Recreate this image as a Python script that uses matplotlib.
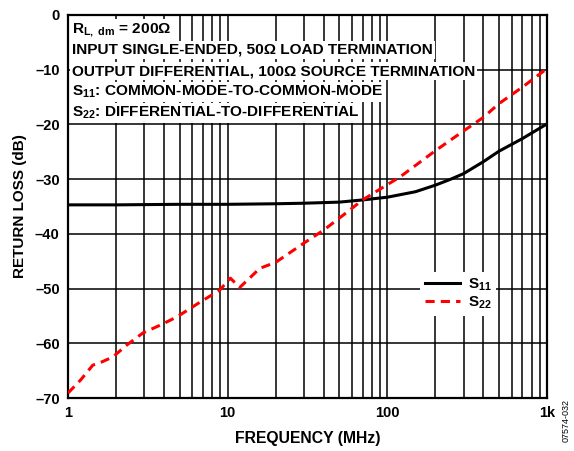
import matplotlib
matplotlib.use("Agg")
import matplotlib.pyplot as plt
from matplotlib.ticker import FixedLocator, LogLocator, NullFormatter

plt.rcParams['font.family'] = ['Liberation Sans', 'DejaVu Sans']
plt.rcParams['font.weight'] = 'bold'
plt.rcParams['mathtext.fontset'] = 'custom'
plt.rcParams['mathtext.rm'] = 'Liberation Sans:bold'
plt.rcParams['mathtext.bf'] = 'Liberation Sans:bold'
plt.rcParams['mathtext.it'] = 'Liberation Sans:bold'

# S11 data (frequency MHz, return loss dB)
s11_freq = [1, 2, 5, 10, 20, 30, 50, 70, 100, 150, 200, 250, 300, 400, 500, 700, 1000]
s11_db = [-34.7, -34.7, -34.6, -34.6, -34.5, -34.4, -34.2, -33.8, -33.3, -32.3, -31.1,
          -30.0, -29.0, -26.8, -24.9, -22.6, -19.9]

# S22 data
s22_freq = [1, 1.2, 1.43, 1.63, 1.91, 2.34, 2.95, 3.77, 4.8, 6.7, 8.9, 10.4,
            11.9, 15.9, 20, 30, 40, 55, 70, 100, 120, 200, 300, 400, 500, 700, 1000]
s22_db = [-69.1, -66.7, -64.0, -63.4, -62.5, -60.3, -58.1, -56.7, -55.2, -52.5,
          -50.3, -48.1, -49.8, -46.3, -45.2, -41.7, -39.3, -36.2, -33.8, -31.0,
          -29.6, -24.8, -21.2, -18.7, -16.2, -13.2, -9.8]

yticks = [0, -10, -20, -30, -40, -50, -60, -70]
ytick_labels = ['0', '\u201310', '\u201320', '\u201330', '\u201340', '\u201350', '\u201360', '\u201370']
xticks = [1, 10, 100, 1000]
xtick_labels = ['1', '10', '100', '1k']

notes = [r'R$_{\mathbf{L,\ dm}}$ = 200$\Omega$',
         'INPUT SINGLE-ENDED, 50\u03a9 LOAD TERMINATION',
         'OUTPUT DIFFERENTIAL, 100\u03a9 SOURCE TERMINATION',
         r'S$_{\mathbf{11}}$: COMMON-MODE-TO-COMMON-MODE',
         r'S$_{\mathbf{22}}$: DIFFERENTIAL-TO-DIFFERENTIAL']

fig = plt.figure(figsize=(5.74, 4.51), dpi=100)
ax = fig.add_axes([68/574, 1-398/451, (547-68)/574, (398-15)/451])

ax.set_xscale('log')
ax.set_xlim(1, 1000)
ax.set_ylim(-70, 0)

ax.xaxis.set_major_locator(FixedLocator(xticks))
ax.set_xticklabels(xtick_labels)
ax.xaxis.set_minor_locator(LogLocator(base=10, subs=range(2, 10)))
ax.xaxis.set_minor_formatter(NullFormatter())
ax.set_yticks(yticks)
ax.set_yticklabels(ytick_labels)

ax.grid(True, which='major', color='black', linewidth=1.1)
ax.grid(True, which='minor', axis='x', color='black', linewidth=1.1)
ax.tick_params(which='both', length=0, labelsize=10.5, pad=6)
for sp in ax.spines.values():
    sp.set_linewidth(1.6)

ax.plot(s11_freq, s11_db, color='black', linewidth=2.2, label=r'S$_{\mathbf{11}}$', zorder=3)
ax.plot(s22_freq, s22_db, color='#ff0000', linewidth=2.2, linestyle=(0, (3, 2)),
        label=r'S$_{\mathbf{22}}$', zorder=3)

ys = [30, 50, 71, 92, 113]
for t, yp in zip(notes, ys):
    fig.text(72/574, 1-yp/451, t, fontsize=11.1, fontweight='bold', va='center', ha='left',
             bbox=dict(facecolor='white', edgecolor='none', pad=1.5), zorder=5)

leg = ax.legend(loc='lower right', bbox_to_anchor=(0.91, 0.195), frameon=True, fancybox=False,
                edgecolor='none', framealpha=1, fontsize=11, handlelength=2.3,
                borderpad=0.3, labelspacing=0.1, handletextpad=0.5)

ax.set_xlabel('FREQUENCY (MHz)', fontsize=11.3, fontweight='bold', labelpad=8)
ax.set_ylabel('RETURN LOSS (dB)', fontsize=11, fontweight='bold', labelpad=6)

fig.text(566/574, 1-420/451, '07574-032', rotation=90, fontsize=6.5, fontweight='normal',
         va='center', ha='center')

fig.savefig('out.png', dpi=100)
